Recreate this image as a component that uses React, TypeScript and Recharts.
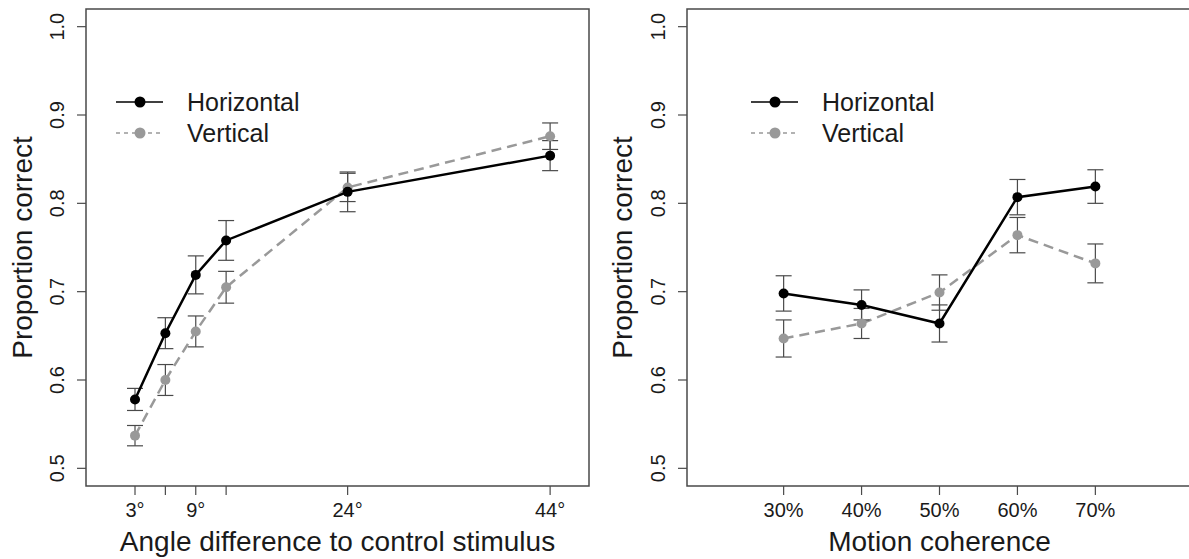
import { LineChart, Line, XAxis, YAxis, ErrorBar, ReferenceArea, Legend, Label } from "recharts"

// left panel: angle difference
const angles = [3, 6, 9, 12, 24, 44]
const angleLabels = ["3°", "", "9°", "", "24°", "44°"]
const angleHorizontal = [0.578, 0.653, 0.719, 0.758, 0.813, 0.854]
const angleHorizontalErr = [0.0125, 0.0175, 0.0215, 0.0225, 0.0225, 0.017]
const angleVertical = [0.537, 0.6, 0.655, 0.705, 0.818, 0.876]
const angleVerticalErr = [0.0115, 0.0175, 0.0175, 0.018, 0.016, 0.015]

// right panel: motion coherence
const coherence = [30, 40, 50, 60, 70]
const coherenceLabels = ["30%", "40%", "50%", "60%", "70%"]
const coherenceHorizontal = [0.698, 0.685, 0.664, 0.807, 0.819]
const coherenceHorizontalErr = [0.02, 0.017, 0.021, 0.02, 0.019]
const coherenceVertical = [0.647, 0.664, 0.699, 0.764, 0.732]
const coherenceVerticalErr = [0.021, 0.017, 0.02, 0.02, 0.022]

const yTicks = [0.5, 0.6, 0.7, 0.8, 0.9, 1.0]
const yDomain = [0.48, 1.02]

const FONT = "'Liberation Sans', Arial, Helvetica, sans-serif"
const INK = "#1a1a1a"
const AXIS = "#4a4a4a"
const GRAY = "#999999"

function rows(xs: number[], ys: number[], errs: number[]) {
  return xs.map((x, i) => ({ x, y: ys[i], err: errs[i] }))
}

function LegendBox() {
  return (
    <svg width={220} height={70} style={{ overflow: "visible" }}>
      <line x1={16} x2={63} y1={22} y2={22} stroke="#000" strokeWidth={1.3} />
      <circle cx={40} cy={22} r={5.5} fill="#000" />
      <text x={87} y={31} fontSize={25} fontFamily={FONT} fill={INK}>Horizontal</text>
      <line x1={16} x2={63} y1={53} y2={53} stroke={GRAY} strokeWidth={1.3} strokeDasharray="4 4" />
      <circle cx={40} cy={53} r={5.5} fill={GRAY} />
      <text x={87} y={62} fontSize={25} fontFamily={FONT} fill={INK}>Vertical</text>
    </svg>
  )
}

interface PanelProps {
  xs: number[]
  labels: string[]
  xDomain: number[]
  horizontal: number[]
  horizontalErr: number[]
  vertical: number[]
  verticalErr: number[]
  xTitle: string
  yAxisWidth: number
  rightMargin: number
  legendLeft: number
}

function Panel(p: PanelProps) {
  const hRows = rows(p.xs, p.horizontal, p.horizontalErr)
  const vRows = rows(p.xs, p.vertical, p.verticalErr)
  const tickBase = p.yAxisWidth - 22

  const xTick = (props: any) => {
    const i = p.xs.indexOf(props.payload.value)
    return (
      <text x={props.x} y={517} textAnchor="middle" fontSize={20} fontFamily={FONT} fill={INK}>
        {p.labels[i]}
      </text>
    )
  }

  const yTick = (props: any) => (
    <text
      x={tickBase}
      y={props.y}
      transform={`rotate(-90, ${tickBase}, ${props.y})`}
      textAnchor="middle"
      fontSize={20}
      fontFamily={FONT}
      fill={INK}
    >
      {Number(props.payload.value).toFixed(1)}
    </text>
  )

  return (
    <LineChart width={600} height={559} margin={{ top: 9, right: p.rightMargin, bottom: 0, left: 0 }}>
      <XAxis
        type="number"
        dataKey="x"
        domain={p.xDomain}
        ticks={p.xs}
        allowDataOverflow
        axisLine={false}
        tickLine={{ stroke: AXIS, strokeWidth: 1.2 }}
        tickSize={9}
        tick={xTick}
        height={73}
      >
        <Label
          content={({ viewBox }: any) => (
            <text
              x={viewBox.x + viewBox.width / 2}
              y={551}
              textAnchor="middle"
              fontSize={28}
              fontFamily={FONT}
              fill={INK}
            >
              {p.xTitle}
            </text>
          )}
        />
      </XAxis>
      <YAxis
        type="number"
        domain={yDomain}
        ticks={yTicks}
        allowDataOverflow
        axisLine={false}
        tickLine={{ stroke: AXIS, strokeWidth: 1.2 }}
        tickSize={9}
        tick={yTick}
        width={p.yAxisWidth}
      >
        <Label
          content={({ viewBox }: any) => {
            const cy = viewBox.y + viewBox.height / 2
            return (
              <text
                x={32}
                y={cy}
                transform={`rotate(-90, 32, ${cy})`}
                textAnchor="middle"
                fontSize={28}
                fontFamily={FONT}
                fill={INK}
              >
                Proportion correct
              </text>
            )
          }}
        />
      </YAxis>
      <ReferenceArea
        x1={p.xDomain[0]}
        x2={p.xDomain[1]}
        y1={yDomain[0]}
        y2={yDomain[1]}
        fill="none"
        fillOpacity={0}
        stroke={AXIS}
        strokeWidth={1.5}
        ifOverflow="visible"
      />
      <Line
        data={vRows}
        dataKey="y"
        stroke={GRAY}
        strokeWidth={2.5}
        strokeDasharray="10 6"
        dot={{ r: 5, fill: GRAY, stroke: "none" }}
        activeDot={false}
        isAnimationActive={false}
      >
        <ErrorBar dataKey="err" direction="y" width={8} stroke={AXIS} strokeWidth={1.2} isAnimationActive={false} />
      </Line>
      <Line
        data={hRows}
        dataKey="y"
        stroke="#000"
        strokeWidth={2.5}
        dot={{ r: 5, fill: "#000", stroke: "none" }}
        activeDot={false}
        isAnimationActive={false}
      >
        <ErrorBar dataKey="err" direction="y" width={8} stroke={AXIS} strokeWidth={1.2} isAnimationActive={false} />
      </Line>
      <Legend
        layout="horizontal"
        verticalAlign="middle"
        align="center"
        wrapperStyle={{ left: p.legendLeft, top: 80, width: 220, height: 70 }}
        content={() => <LegendBox />}
      />
    </LineChart>
  )
}

export default function App() {
  return (
    <div
      style={{
        position: "absolute",
        left: 0,
        top: 0,
        width: 1189,
        height: 559,
        overflow: "hidden",
        background: "#fff",
      }}
    >
      <div style={{ position: "absolute", left: 0, top: 0 }}>
        <Panel
          xs={angles}
          labels={angleLabels}
          xDomain={[-1.84, 47.84]}
          horizontal={angleHorizontal}
          horizontalErr={angleHorizontalErr}
          vertical={angleVertical}
          verticalErr={angleVerticalErr}
          xTitle="Angle difference to control stimulus"
          yAxisWidth={86}
          rightMargin={11}
          legendLeft={100}
        />
      </div>
      <div style={{ position: "absolute", left: 600, top: 0 }}>
        <Panel
          xs={coherence}
          labels={coherenceLabels}
          xDomain={[17.6, 82.4]}
          horizontal={coherenceHorizontal}
          horizontalErr={coherenceHorizontalErr}
          vertical={coherenceVertical}
          verticalErr={coherenceVerticalErr}
          xTitle="Motion coherence"
          yAxisWidth={87}
          rightMargin={8}
          legendLeft={135}
        />
      </div>
    </div>
  )
}
